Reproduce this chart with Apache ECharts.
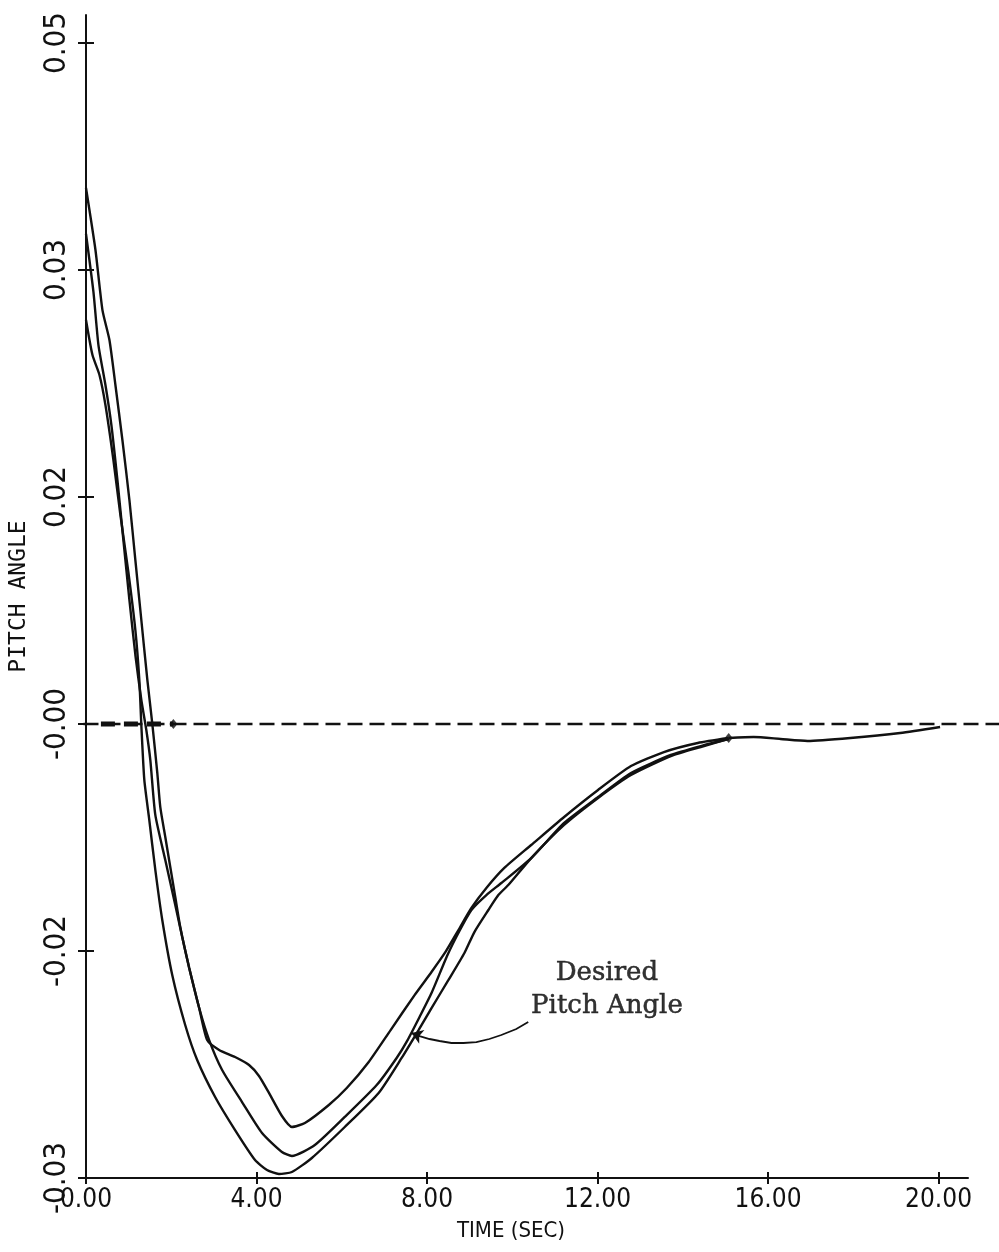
<!DOCTYPE html>
<html><head><meta charset="utf-8">
<script src="https://cdn.jsdelivr.net/npm/echarts@6/dist/echarts.min.js"></script>
<style>html,body{margin:0;padding:0;background:#fff}#c{width:999px;height:1252px}</style>
</head><body><div id="c"></div>
<script>
// ---- axis ticks ----
const timeTicks = [0, 4, 8, 12, 16, 20];
const pitchTickValues = [-0.034, -0.017, 0, 0.017, 0.034, 0.051];
const pitchTickLabels = ['-0.03', '-0.02', '-0.00', '0.02', '0.03', '0.05'];

// ---- response curves [time (s), pitch angle] ----
const curveHump = [
  [0.00,0.04014],[0.222,0.03550],[0.386,0.03100],[0.550,0.02876],[0.690,0.02539],[0.854,0.02127],
  [1.018,0.01678],[1.158,0.01228],[1.298,0.00779],[1.439,0.00330],[1.556,0.00000],[1.673,-0.00367],
  [1.743,-0.00622],[1.860,-0.00846],[1.977,-0.01071],[2.094,-0.01296],[2.211,-0.01520],[2.421,-0.01827],
  [2.655,-0.02127],[2.842,-0.02367],[3.123,-0.02441],[3.497,-0.02494],[3.825,-0.02554],[4.058,-0.02636],
  [4.292,-0.02763],[4.596,-0.02936],[4.830,-0.03018],[5.135,-0.02988],[5.696,-0.02853],[6.117,-0.02726],
  [6.632,-0.02531],[7.146,-0.02292],[7.708,-0.02030],[8.105,-0.01857],[8.433,-0.01707],[8.737,-0.01543],
  [9.041,-0.01378],[9.392,-0.01228],[9.813,-0.01078],[10.444,-0.00906],[11.216,-0.00696],[12.012,-0.00494],
  [12.784,-0.00315],[13.556,-0.00210],[14.351,-0.00142],[15.076,-0.00105]
];
const curveDesired = [
  [0.00,0.03670],[0.175,0.03235],[0.292,0.02838],[0.456,0.02539],[0.596,0.02239],[0.737,0.01827],
  [0.877,0.01378],[1.018,0.00929],[1.158,0.00517],[1.298,0.00180],[1.415,-0.00045],[1.509,-0.00270],
  [1.626,-0.00681],[1.860,-0.01019],[2.094,-0.01356],[2.257,-0.01595],[2.421,-0.01827],[2.655,-0.02127],
  [2.889,-0.02367],[3.193,-0.02591],[3.661,-0.02831],[4.129,-0.03063],[4.596,-0.03205],[4.830,-0.03235],
  [5.368,-0.03153],[6.070,-0.02943],[6.819,-0.02704],[7.287,-0.02501],[7.544,-0.02367],[7.825,-0.02194],
  [8.105,-0.02015],[8.480,-0.01730],[8.760,-0.01550],[9.041,-0.01393],[9.392,-0.01281],[9.743,-0.01191],
  [10.444,-0.01004],[11.216,-0.00741],[12.012,-0.00547],[12.784,-0.00367],[13.719,-0.00232],[14.421,-0.00165],
  [15.076,-0.00112]
];
const curveLowest = [
  [0.00,0.03026],[0.152,0.02763],[0.316,0.02614],[0.456,0.02389],[0.643,0.01977],[0.807,0.01565],
  [0.994,0.01138],[1.158,0.00704],[1.251,0.00330],[1.298,-0.00007],[1.368,-0.00419],[1.485,-0.00719],
  [1.626,-0.01093],[1.789,-0.01468],[2.023,-0.01880],[2.327,-0.02254],[2.608,-0.02516],[3.029,-0.02793],
  [3.497,-0.03041],[3.965,-0.03265],[4.246,-0.03340],[4.526,-0.03370],[4.830,-0.03355],[5.298,-0.03250],
  [6.070,-0.03018],[6.865,-0.02763],[7.404,-0.02501],[7.801,-0.02292],[8.105,-0.02127],[8.503,-0.01917],
  [8.877,-0.01715],[9.111,-0.01558],[9.439,-0.01393],[9.673,-0.01281],[9.906,-0.01206],[10.444,-0.01004],
  [11.216,-0.00756],[12.012,-0.00554],[12.784,-0.00382],[13.719,-0.00240],[14.421,-0.00172],[15.076,-0.00112]
];
const mergedTail = [
  [15.076,-0.00105],[15.661,-0.00097],[16.292,-0.00112],[16.924,-0.00127],[17.930,-0.00105],
  [19.099,-0.00067],[20.035,-0.00022]
];
const zeroLine = [[0, 0], [21.415, 0]];
const zeroLineHeavy = [[0.35, 0], [2.05, 0]];
const joinMarks = [[2.05, 0], [15.076, -0.00105]];
const annotationAt = [[12.22, -0.0199]];
const annotationText = 'Desired\nPitch Angle';
const arrowPath = [[10.374,-0.02232],[10.094,-0.02284],[9.743,-0.02329],[9.462,-0.02359],[9.158,-0.02382],
  [8.854,-0.02389],[8.573,-0.02389],[8.292,-0.02374],[8.058,-0.02359],[7.825,-0.02337],[7.637,-0.02314]];
const arrowHead = [[7.825,-0.02337],[7.637,-0.02314]];

const ink = '#111';
const plotFont = "'Liberation Sans Narrow', 'DejaVu Sans Condensed', 'Liberation Sans', sans-serif";
const monoFont = "'DejaVu Sans Mono', 'Liberation Mono', monospace";
const yMin = -0.034, yMax = 0.0531;

function pitchLabel(v) {
  const i = pitchTickValues.findIndex(t => Math.abs(t - v) < 1e-6);
  return i >= 0 ? pitchTickLabels[i] : '';
}

const chart = echarts.init(document.getElementById('c'), null, { renderer: 'canvas' });
const curveStyle = { color: ink, width: 2.4 };
const lineSeries = (data) => ({
  type: 'line', data, showSymbol: false, symbol: 'none', smooth: 0.2,
  lineStyle: curveStyle, silent: true, animation: false, z: 3
});

chart.setOption({
  animation: false,
  backgroundColor: '#fff',
  grid: [
    { left: 83.5, right: 31, top: 15, bottom: 74, containLabel: false },
    { left: 83.5, right: 0, top: 15, bottom: 74, containLabel: false }
  ],
  xAxis: [{
    type: 'value', min: 0, max: 20.69, position: 'bottom', gridIndex: 0,
    axisLine: { show: true, onZero: false, lineStyle: { color: ink, width: 2 } },
    axisTick: { show: true, length: 6, customValues: timeTicks, lineStyle: { color: ink, width: 2 } },
    axisLabel: { customValues: timeTicks, formatter: v => v.toFixed(2), margin: 9,
      fontFamily: plotFont, fontSize: 26, color: ink },
    splitLine: { show: false },
    name: 'TIME (SEC)', nameLocation: 'middle', nameGap: 42,
    nameTextStyle: { fontFamily: plotFont, fontSize: 22, color: ink, padding: [0, 32, 0, 0] }
  }, {
    type: 'value', min: 0, max: 20.69, position: 'bottom', gridIndex: 0,
    axisLine: { show: false, onZero: false },
    axisTick: { show: true, inside: true, length: 6, customValues: timeTicks, lineStyle: { color: ink, width: 2 } },
    axisLabel: { show: false }, splitLine: { show: false }
  }, {
    type: 'value', min: 0, max: 21.415, gridIndex: 1, show: false
  }],
  yAxis: [{
    type: 'value', min: yMin, max: yMax, position: 'left', gridIndex: 0,
    axisLine: { show: true, onZero: false, lineStyle: { color: ink, width: 2 } },
    axisTick: { show: true, length: 8, customValues: pitchTickValues, lineStyle: { color: ink, width: 2 } },
    axisLabel: { customValues: pitchTickValues, formatter: pitchLabel, rotate: 90, margin: 14,
      fontFamily: plotFont, fontSize: 31, color: ink },
    splitLine: { show: false },
    name: 'PITCH ANGLE', nameLocation: 'middle', nameGap: 55, nameRotate: 90,
    nameTextStyle: { fontFamily: monoFont, fontSize: 23, color: ink }
  }, {
    type: 'value', min: yMin, max: yMax, position: 'left', gridIndex: 0,
    axisLine: { show: false, onZero: false },
    axisTick: { show: true, inside: true, length: 8, customValues: pitchTickValues, lineStyle: { color: ink, width: 2 } },
    axisLabel: { show: false }, splitLine: { show: false }
  }, {
    type: 'value', min: yMin, max: yMax, gridIndex: 1, show: false
  }],
  series: [
    { type: 'line', data: zeroLine, xAxisIndex: 2, yAxisIndex: 2, showSymbol: false, symbol: 'none', silent: true,
      lineStyle: { color: ink, width: 2.6, type: [15, 7] }, z: 2 },
    { type: 'line', data: zeroLineHeavy, showSymbol: false, symbol: 'none', silent: true,
      lineStyle: { color: ink, width: 5, type: [14, 9] }, z: 2 },
    lineSeries(curveHump),
    lineSeries(curveDesired),
    lineSeries(curveLowest),
    lineSeries(mergedTail),
    { type: 'scatter', data: joinMarks, symbol: 'diamond', symbolSize: [8, 10], silent: true,
      itemStyle: { color: ink }, z: 4 },
    { type: 'scatter', data: annotationAt, symbolSize: 0, silent: true,
      label: { show: true, position: 'inside', formatter: annotationText,
        fontFamily: "'DejaVu Serif', 'Liberation Serif', serif",
        fontSize: 26, lineHeight: 33, color: '#000', align: 'center',
        textBorderColor: '#000', textBorderWidth: 0.5 } },
    { type: 'lines', coordinateSystem: 'cartesian2d', polyline: true, silent: true,
      data: [{ coords: arrowPath }], symbol: 'none',
      lineStyle: { color: ink, width: 1.8, opacity: 1 } },
    { type: 'lines', coordinateSystem: 'cartesian2d', polyline: false, silent: true,
      data: [{ coords: arrowHead }], symbol: ['none', 'arrow'], symbolSize: 11,
      lineStyle: { color: ink, width: 1.8, opacity: 1 } }
  ]
});
</script></body></html>
